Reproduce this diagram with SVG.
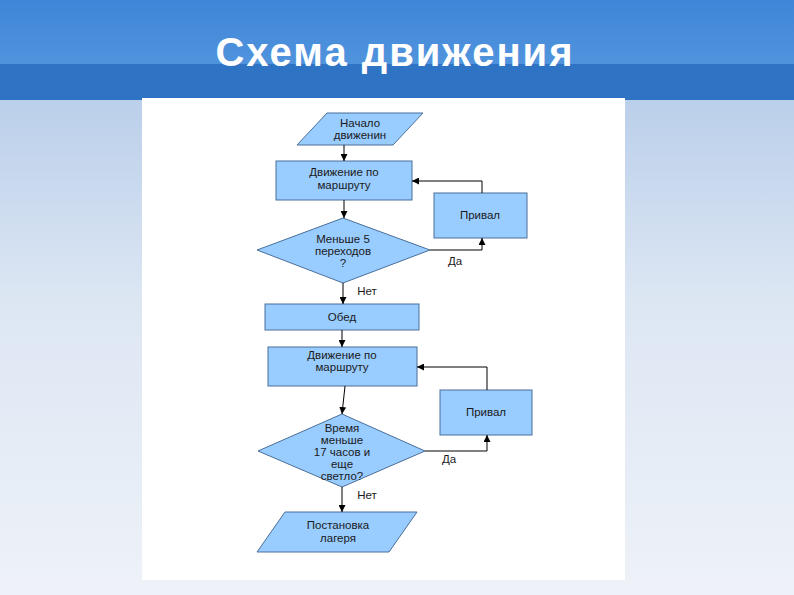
<svg xmlns="http://www.w3.org/2000/svg" width="794" height="595" viewBox="0 0 794 595">
<defs>
<linearGradient id="bg" x1="0" y1="0" x2="0" y2="1"><stop offset="0" stop-color="#aac4e6"/><stop offset="0.5" stop-color="#dce6f3"/><stop offset="1" stop-color="#eef2f8"/></linearGradient>
<linearGradient id="top" x1="0" y1="0" x2="0" y2="1"><stop offset="0" stop-color="#3f86d8"/><stop offset="1" stop-color="#5a9be0"/></linearGradient>
<marker id="a" viewBox="0 0 10 10" refX="10" refY="5" markerWidth="7" markerHeight="7" orient="auto"><path d="M0,0L10,5L0,10z" fill="#000"/></marker>
</defs>
<style>
.n{fill:#99ccff;stroke:#4a6f99;stroke-width:1}
.t{font-family:"Liberation Sans",Arial,sans-serif;font-size:11.5px;fill:#1a1a1a;text-anchor:middle}
.c{fill:none;stroke:#000;stroke-width:1;marker-end:url(#a)}
</style>
<rect width="794" height="595" fill="url(#bg)"/>
<rect width="794" height="100" fill="url(#top)"/>
<rect y="64" width="794" height="36" fill="#2f73c4"/>
<text x="395" y="66" font-family="Liberation Sans,Arial,sans-serif" font-size="40" font-weight="bold" letter-spacing="2" fill="#fff" text-anchor="middle">Схема движения</text>
<rect x="142" y="98" width="483" height="482" fill="#fff"/>
<g id="n1"><polygon class="n" points="327,113 423,113 393,145 297,145"/><text class="t" x="360" y="127">Начало</text><text class="t" x="360" y="139">движенин</text></g>
<g id="n2"><rect class="n" x="276" y="161" width="136" height="39"/><text class="t" x="344" y="176">Движение по</text><text class="t" x="344" y="189">маршруту</text></g>
<g id="n3"><rect class="n" x="434" y="193" width="93" height="45"/><text class="t" x="480" y="219">Привал</text></g>
<g id="n4"><polygon class="n" points="343,218 430,250 343,283 257,250"/><text class="t" x="343" y="243">Меньше 5</text><text class="t" x="343" y="255">переходов</text><text class="t" x="343" y="267">?</text></g>
<g id="n5"><rect class="n" x="265" y="304" width="154" height="26"/><text class="t" x="342" y="321">Обед</text></g>
<g id="n6"><rect class="n" x="268" y="347" width="149" height="39"/><text class="t" x="342" y="359">Движение по</text><text class="t" x="342" y="371">маршруту</text></g>
<g id="n7"><rect class="n" x="440" y="390" width="92" height="45"/><text class="t" x="486" y="416">Привал</text></g>
<g id="n8"><polygon class="n" points="342,414 425,451 342,487 258,451"/><text class="t" x="342" y="432">Время</text><text class="t" x="342" y="444">меньше</text><text class="t" x="342" y="456">17 часов и</text><text class="t" x="342" y="468">еще</text><text class="t" x="342" y="480">светло?</text></g>
<g id="n9"><polygon class="n" points="285,512 417,512 389,552 257,552"/><text class="t" x="338" y="529">Постановка</text><text class="t" x="338" y="542">лагеря</text></g>
<g id="connectors">
<path class="c" d="M344,145V161"/>
<path class="c" d="M344,200V218"/>
<path class="c" d="M430,250H482V238"/>
<path class="c" d="M482,193V181H412"/>
<path class="c" d="M343,283V304"/>
<path class="c" d="M342,330V347"/>
<path class="c" d="M345,386L342,414"/>
<path class="c" d="M425,451H487V435"/>
<path class="c" d="M487,390V367H417"/>
<path class="c" d="M342,487V512"/>
<text class="t" x="455" y="265">Да</text>
<text class="t" x="367" y="295">Нет</text>
<text class="t" x="449" y="463">Да</text>
<text class="t" x="367" y="499">Нет</text>
</g>
</svg>
